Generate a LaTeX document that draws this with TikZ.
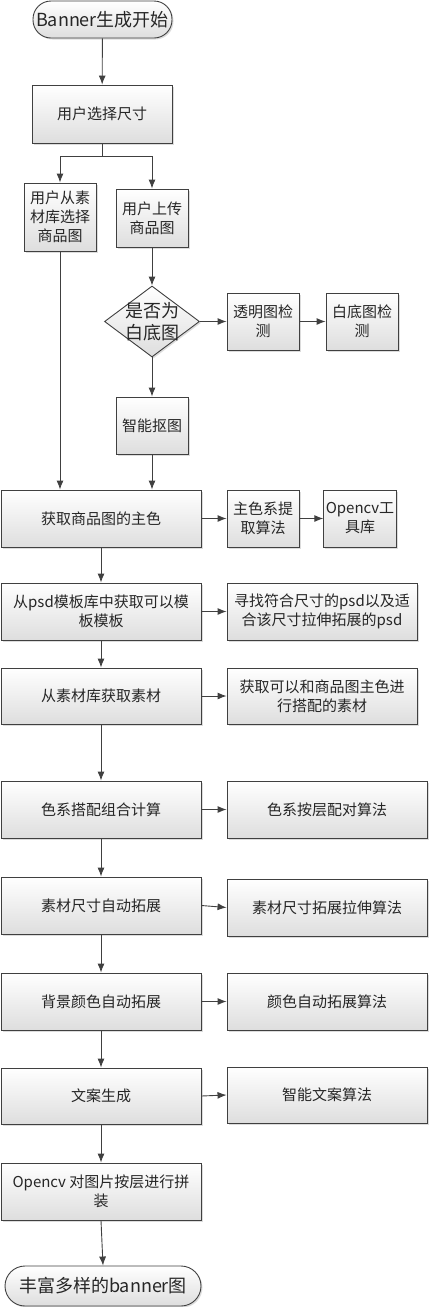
\documentclass[tikz,border=0pt]{standalone}
\usepackage{fontspec}
\setmainfont{Noto Sans CJK SC}
\usepackage{tikz}
\usetikzlibrary{arrows.meta, shapes.geometric, shadows}

\definecolor{linegray}{HTML}{404040}
\definecolor{textgray}{HTML}{262626}

\tikzset{
  stepbox/.style={draw=linegray, line width=0.9pt, rectangle, top color=white, bottom color=black!13,
    drop shadow={shadow xshift=1.5pt, shadow yshift=-1.5pt, fill=black!30, opacity=.45},
    text=textgray, align=center, inner sep=2pt, font=\fontsize{15}{19}\selectfont},
  termbox/.style={stepbox, rounded corners=18pt, font=\fontsize{18}{22}\selectfont},
  testbox/.style={draw=linegray, line width=0.9pt, diamond, top color=white, bottom color=black!13,
    drop shadow={shadow xshift=1.5pt, shadow yshift=-1.5pt, fill=black!30, opacity=.45}, inner sep=0pt},
  arr/.style={draw=linegray, line width=0.9pt, -{Latex[length=9pt,width=7pt]}}
}

\begin{document}
\begin{tikzpicture}[x=1pt, y=-1pt]
\useasboundingbox (0,0) rectangle (430,1307);
% main column
\node[termbox, minimum width=139pt, minimum height=37pt] (start) at (102.5,19.5){Banner生成开始};
\node[stepbox, minimum width=140pt, minimum height=58pt] (size) at (102,114){用户选择尺寸};
\node[stepbox, minimum width=72pt, minimum height=68pt] (lib) at (60,217){用户从素\\材库选择\\商品图};
\node[stepbox, minimum width=72pt, minimum height=58pt] (upload) at (152,218){用户上传\\商品图};
\node[testbox, minimum width=95pt, minimum height=71pt] (iswhite) at (152,321.5){};
\node[text=textgray, align=center, font=\fontsize{18}{22}\selectfont] (iswhitetext) at (iswhite){是否为\\白底图};
\node[stepbox, minimum width=72pt, minimum height=57pt] (transp) at (263,321.5){透明图检\\测};
\node[stepbox, minimum width=72pt, minimum height=57pt] (whitechk) at (362,321.5){白底图检\\测};
\node[stepbox, minimum width=72pt, minimum height=57pt] (matting) at (152,425.5){智能抠图};
\node[stepbox, minimum width=200pt, minimum height=57pt] (maincolor) at (101,518.5){获取商品图的主色};
\node[stepbox, minimum width=72pt, minimum height=57pt] (colalgo) at (263,518.5){主色系提\\取算法};
\node[stepbox, minimum width=72pt, minimum height=57pt] (opencv) at (360,518.5){Opencv工\\具库};
\node[stepbox, minimum width=200pt, minimum height=57pt] (psd) at (101,611.5){从psd模板库中获取可以模\\板模板};
\node[stepbox, minimum width=190pt, minimum height=57pt] (psdfind) at (322,611.5){寻找符合尺寸的psd以及适\\合该尺寸拉伸拓展的psd};
\node[stepbox, minimum width=200pt, minimum height=56pt] (material) at (101,696){从素材库获取素材};
\node[stepbox, minimum width=190pt, minimum height=56pt] (matfind) at (322,696){获取可以和商品图主色进\\行搭配的素材};
\node[stepbox, minimum width=200pt, minimum height=57pt] (combine) at (101,809.5){色系搭配组合计算};
\node[stepbox, minimum width=200pt, minimum height=57pt] (pair) at (327,809.5){色系按层配对算法};
\node[stepbox, minimum width=200pt, minimum height=57pt] (expand) at (101,905.5){素材尺寸自动拓展};
\node[stepbox, minimum width=200pt, minimum height=57pt] (stretch) at (327,907.5){素材尺寸拓展拉伸算法};
\node[stepbox, minimum width=200pt, minimum height=57pt] (bg) at (101,1001.5){背景颜色自动拓展};
\node[stepbox, minimum width=200pt, minimum height=57pt] (bgalgo) at (327,1001.5){颜色自动拓展算法};
\node[stepbox, minimum width=200pt, minimum height=56pt] (copy) at (101,1096){文案生成};
\node[stepbox, minimum width=200pt, minimum height=56pt] (copyalgo) at (327,1095){智能文案算法};
\node[stepbox, minimum width=200pt, minimum height=57pt] (assemble) at (101,1191.5){Opencv 对图片按层进行拼\\装};
\node[termbox, minimum width=196pt, minimum height=40pt, rounded corners=20pt] (end) at (103,1286){丰富多样的banner图};
% connectors
\draw[arr] (start) -- (size);
\draw[arr] (size.south) -- ++(0,13) -| (lib.north);
\draw[arr] (size.south) -- ++(0,13) -| (upload.north);
\draw[arr] (upload) -- (iswhite);
\draw[arr] (iswhite) -- (transp);
\draw[arr] (transp) -- (whitechk);
\draw[arr] (iswhite) -- (matting);
\draw[arr] (matting.south) -- (matting.south |- maincolor.north);
\draw[arr] (lib.south) -- (lib.south |- maincolor.north);
\draw[arr] (maincolor) -- (colalgo);
\draw[arr] (colalgo) -- (opencv);
\draw[arr] (maincolor) -- (psd);
\draw[arr] (psd) -- (psdfind);
\draw[arr] (psd) -- (material);
\draw[arr] (material) -- (matfind);
\draw[arr] (material) -- (combine);
\draw[arr] (combine) -- (pair);
\draw[arr] (combine) -- (expand);
\draw[arr] (expand.east) -- (stretch.west);
\draw[arr] (expand) -- (bg);
\draw[arr] (bg) -- (bgalgo);
\draw[arr] (bg) -- (copy);
\draw[arr] (copy.east) -- (copyalgo.west);
\draw[arr] (copy) -- (assemble);
\draw[arr] (assemble.south) -- (end.north);
\end{tikzpicture}
\end{document}
